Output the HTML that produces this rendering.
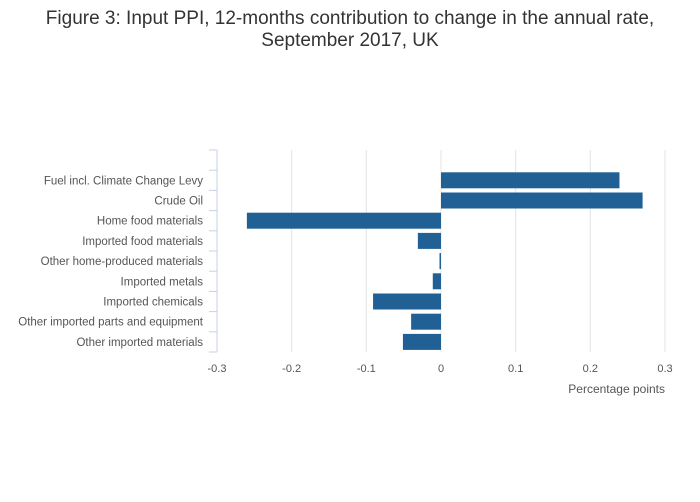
<!DOCTYPE html>
<html><head><meta charset="utf-8"><style>
body{margin:0;background:#fff;font-family:"Liberation Sans",sans-serif}
</style></head><body>
<svg width="700" height="502" xmlns="http://www.w3.org/2000/svg" style="display:block">
<text x="350" y="24" text-anchor="middle" font-size="19" fill="#333">Figure 3: Input PPI, 12-months contribution to change in the annual rate,</text>
<text x="350" y="46" text-anchor="middle" font-size="19" fill="#333">September 2017, UK</text>
<g id="grid"></g>
<g id="bars"></g>
<g id="yax"></g>
<g id="xax"></g>
<text x="665" y="393" text-anchor="end" font-size="12" fill="#555">Percentage points</text>
</svg>
<script>
const categories=["","Fuel incl. Climate Change Levy","Crude Oil","Home food materials","Imported food materials","Other home-produced materials","Imported metals","Imported chemicals","Other imported parts and equipment","Other imported materials"];
const values=[null,0.239,0.27,-0.26,-0.031,-0.002,-0.011,-0.091,-0.04,-0.051];
const xTicks=[-0.3,-0.2,-0.1,0,0.1,0.2,0.3];
const xTickLabels=["-0.3","-0.2","-0.1","0","0.1","0.2","0.3"];
const NS="http://www.w3.org/2000/svg";
const x0=217,x1=665,xmin=-0.3,xmax=0.3,yTop=150,yBot=352;
const xs=v=>x0+(v-xmin)/(xmax-xmin)*(x1-x0);
const band=(yBot-yTop)/categories.length;
function mk(t,a,p){const e=document.createElementNS(NS,t);for(const k in a)e.setAttribute(k,a[k]);p.appendChild(e);return e;}
const grid=document.getElementById('grid'),bars=document.getElementById('bars'),yax=document.getElementById('yax'),xax=document.getElementById('xax');
xTicks.forEach((t,i)=>{
  if(t!==xmin){const l=mk('line',{x1:xs(t),x2:xs(t),y1:yTop,y2:yBot,stroke:'#e4e4e4','stroke-width':1},grid);
  
  }
  const tx=mk('text',{x:xs(t),y:372,'text-anchor':'middle','font-size':11,fill:'#555'},xax);
  tx.textContent=xTickLabels[i];
  
  
});
mk('line',{x1:x0,x2:x0,y1:yTop,y2:yBot,stroke:'#c8d0e0','stroke-width':1},yax);
for(let i=0;i<=categories.length;i++){
  const y=yTop+i*band;
  const tk=mk('line',{x1:x0-8,x2:x0,y1:y,y2:y,stroke:'#c8d0e0','stroke-width':1},yax);
  
  
}
categories.forEach((c,i)=>{
  const cy=yTop+(i+0.5)*band;
  if(c){const tx=mk('text',{x:203,y:cy+4,'text-anchor':'end','font-size':11.5,fill:'#555'},yax);
  tx.textContent=c;
  
  }
  const v=values[i];
  if(v!==null){
    const a=xs(0),b=xs(v);
    const r=mk('rect',{x:Math.min(a,b),y:cy-8,width:Math.max(Math.abs(b-a),1),height:16,fill:'#206095'},bars);
    
    
  }
});
</script>
</body></html>
